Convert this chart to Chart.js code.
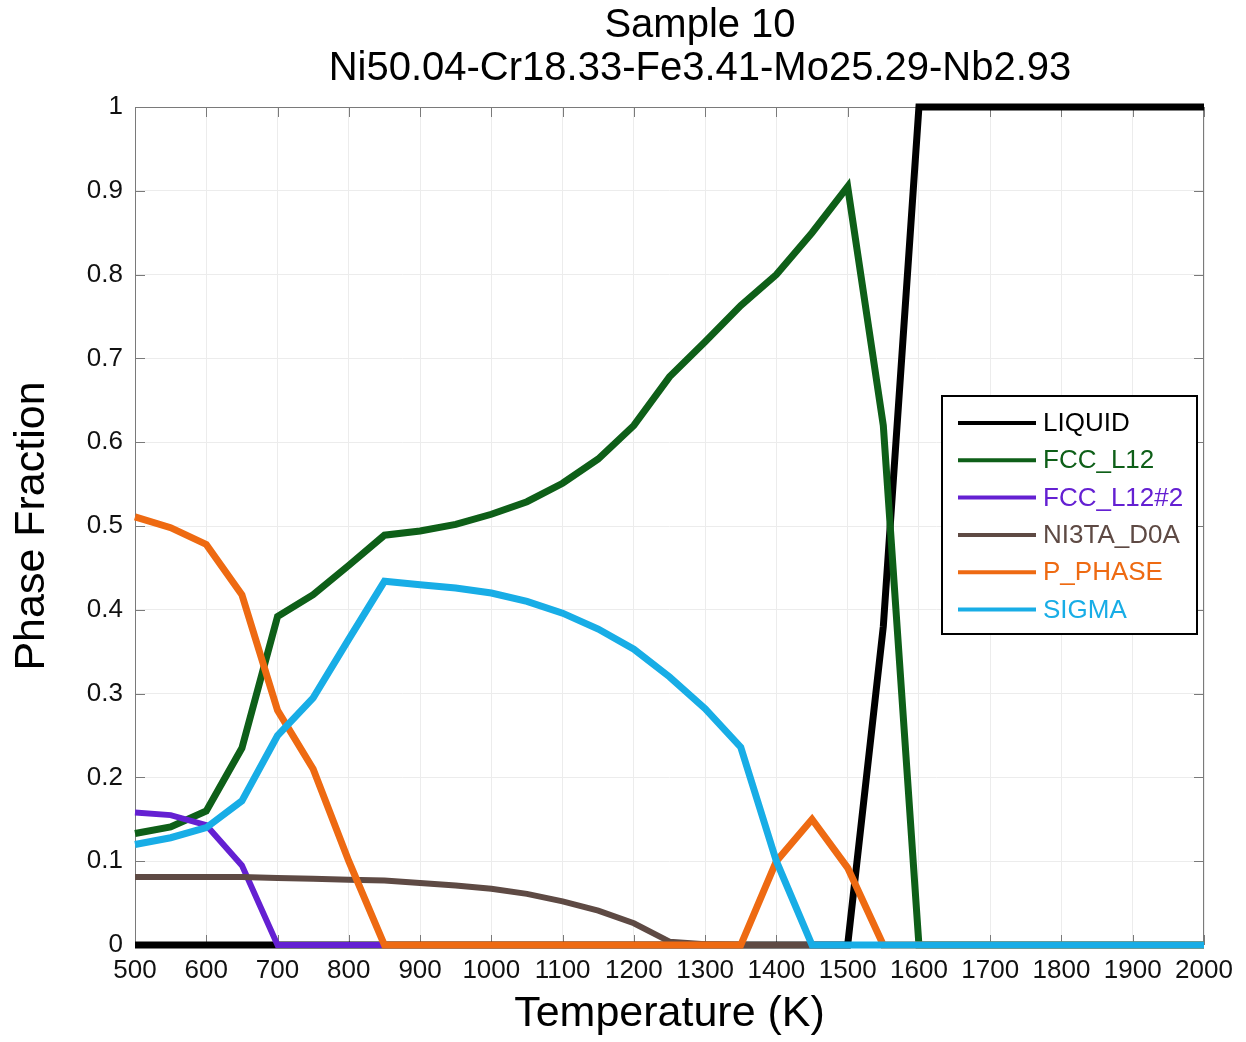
<!DOCTYPE html>
<html>
<head>
<meta charset="utf-8">
<script src="https://cdn.jsdelivr.net/npm/chart.js@4/dist/chart.umd.min.js"></script>
<style>
  html, body { margin: 0; padding: 0; background: #fff; }
  #wrap { width: 1246px; height: 1042px; }
</style>
</head>
<body>
<div id="wrap"><canvas id="chart" width="1246" height="1042"></canvas></div>
<script>
// temperatures (K), every 50 K
const temps = [500, 550, 600, 650, 700, 750, 800, 850, 900, 950, 1000, 1050, 1100, 1150, 1200, 1250,
               1300, 1350, 1400, 1450, 1500, 1550, 1600, 1650, 1700, 1750, 1800, 1850, 1900, 1950, 2000];

const liquid  = [0, 0, 0, 0, 0, 0, 0, 0, 0, 0, 0, 0, 0, 0, 0, 0,
                 0, 0, 0, 0, 0, 0.38, 1, 1, 1, 1, 1, 1, 1, 1, 1];
const fccL12  = [0.133, 0.141, 0.160, 0.235, 0.392, 0.418, 0.453, 0.489, 0.494, 0.502, 0.514, 0.529, 0.551, 0.580, 0.620, 0.678,
                 0.720, 0.763, 0.800, 0.850, 0.905, 0.620, 0, 0, 0, 0, 0, 0, 0, 0, 0];
const fccL12b = [0.158, 0.155, 0.143, 0.095, 0, 0, 0, 0, 0, 0, 0, 0, 0, 0, 0, 0,
                 0, 0, 0, 0, 0, 0, 0, 0, 0, 0, 0, 0, 0, 0, 0];
const ni3ta   = [0.081, 0.081, 0.081, 0.081, 0.080, 0.079, 0.078, 0.077, 0.074, 0.071, 0.067, 0.061, 0.052, 0.041, 0.026, 0.004,
                 0.001, 0, 0, 0, 0, 0, 0, 0, 0, 0, 0, 0, 0, 0, 0];
const pPhase  = [0.511, 0.498, 0.478, 0.418, 0.280, 0.210, 0.100, 0, 0, 0, 0, 0, 0, 0, 0, 0,
                 0, 0, 0.100, 0.150, 0.092, 0, 0, 0, 0, 0, 0, 0, 0, 0, 0];
const sigma   = [0.120, 0.128, 0.140, 0.172, 0.250, 0.295, 0.365, 0.434, 0.430, 0.426, 0.420, 0.410, 0.396, 0.377, 0.353, 0.320,
                 0.282, 0.236, 0.100, 0, 0, 0, 0, 0, 0, 0, 0, 0, 0, 0, 0];

const titleLines = ['Sample 10', 'Ni50.04-Cr18.33-Fe3.41-Mo25.29-Nb2.93'];

function pts(arr) {
  return temps.map((t, i) => ({x: t, y: arr[i]}));
}

const series = [
  {label: 'LIQUID',     data: liquid,  color: '#000000', w: 7},
  {label: 'FCC_L12',    data: fccL12,  color: '#0e5f18', w: 7},
  {label: 'FCC_L12#2',  data: fccL12b, color: '#6420d2', w: 6},
  {label: 'NI3TA_D0A',  data: ni3ta,   color: '#5e4a44', w: 6},
  {label: 'P_PHASE',    data: pPhase,  color: '#ee6a12', w: 7},
  {label: 'SIGMA',      data: sigma,   color: '#18ade6', w: 7}
];

const FONT = '"Liberation Sans", Arial, sans-serif';

const extras = {
  id: 'extras',
  beforeDatasetsDraw(chart) {
    const {ctx, chartArea: a} = chart;
    const xs = chart.scales.x, ys = chart.scales.y;
    ctx.save();
    ctx.strokeStyle = '#7a7a7a';
    ctx.lineWidth = 1;
    ctx.strokeRect(a.left + 0.5, a.top + 0.5, a.width - 1, a.height - 1);
    // inner tick marks
    ctx.beginPath();
    xs.ticks.forEach(t => {
      const px = Math.round(xs.getPixelForValue(t.value)) + 0.5;
      ctx.moveTo(px, a.bottom); ctx.lineTo(px, a.bottom - 10);
      ctx.moveTo(px, a.top); ctx.lineTo(px, a.top + 10);
    });
    ys.ticks.forEach(t => {
      const py = Math.round(ys.getPixelForValue(t.value)) + 0.5;
      ctx.moveTo(a.left, py); ctx.lineTo(a.left + 10, py);
      ctx.moveTo(a.right, py); ctx.lineTo(a.right - 10, py);
    });
    ctx.stroke();
    ctx.restore();
  },
  afterDraw(chart) {
    const ctx = chart.ctx;
    ctx.save();
    // title
    ctx.fillStyle = '#000';
    ctx.font = '40px ' + FONT;
    ctx.textAlign = 'center';
    ctx.textBaseline = 'middle';
    titleLines.forEach((s, i) => ctx.fillText(s, 700, 26 + i * 43));

    // legend box
    const bx = 942, by = 396, bw = 255, bh = 238;
    ctx.fillStyle = '#fff';
    ctx.fillRect(bx, by, bw, bh);
    ctx.strokeStyle = '#000';
    ctx.lineWidth = 2;
    ctx.strokeRect(bx, by, bw, bh);
    ctx.font = '26px ' + FONT;
    ctx.textAlign = 'left';
    chart.data.datasets.forEach((ds, i) => {
      const y = 423 + i * 37.3;
      ctx.strokeStyle = ds.borderColor;
      ctx.lineWidth = 4;
      ctx.beginPath();
      ctx.moveTo(958, y); ctx.lineTo(1036, y);
      ctx.stroke();
      ctx.fillStyle = ds.borderColor;
      ctx.fillText(ds.label, 1043, y + 1);
    });
    ctx.restore();
  }
};

new Chart(document.getElementById('chart'), {
  type: 'line',
  data: {
    datasets: series.map((s, i) => ({
      label: s.label,
      data: pts(s.data),
      borderColor: s.color,
      backgroundColor: s.color,
      borderWidth: s.w,
      pointRadius: 0,
      fill: false,
      tension: 0,
      // later series sit on top, as in the original plot
      order: series.length - i,
      clip: 4
    }))
  },
  options: {
    responsive: false,
    animation: false,
    layout: {padding: {top: 107, right: 42, left: 0, bottom: 0}},
    plugins: {
      legend: {display: false},
      title: {display: false},
      tooltip: {enabled: false}
    },
    scales: {
      x: {
        type: 'linear',
        min: 500,
        max: 2000,
        afterFit: s => { s.height = 97; },
        ticks: {
          stepSize: 100,
          color: '#111',
          font: {family: FONT, size: 26},
          padding: 10,
          maxRotation: 0,
          autoSkip: false,
          callback: v => String(v)
        },
        grid: {color: '#ececec', lineWidth: 1, drawTicks: false},
        border: {display: false},
        title: {
          display: true,
          text: 'Temperature (K)',
          color: '#000',
          font: {family: FONT, size: 43},
          padding: {top: 0, bottom: 2}
        }
      },
      y: {
        min: 0,
        max: 1,
        afterFit: s => { s.width = 135; },
        ticks: {
          stepSize: 0.1,
          color: '#111',
          font: {family: FONT, size: 26},
          padding: 12,
          callback: v => String(Number(v.toFixed(1)))
        },
        grid: {color: '#ececec', lineWidth: 1, drawTicks: false},
        border: {display: false},
        title: {
          display: true,
          text: 'Phase Fraction',
          color: '#000',
          font: {family: FONT, size: 43},
          padding: {top: 6, bottom: 0}
        }
      }
    }
  },
  plugins: [extras]
});
</script>
</body>
</html>
